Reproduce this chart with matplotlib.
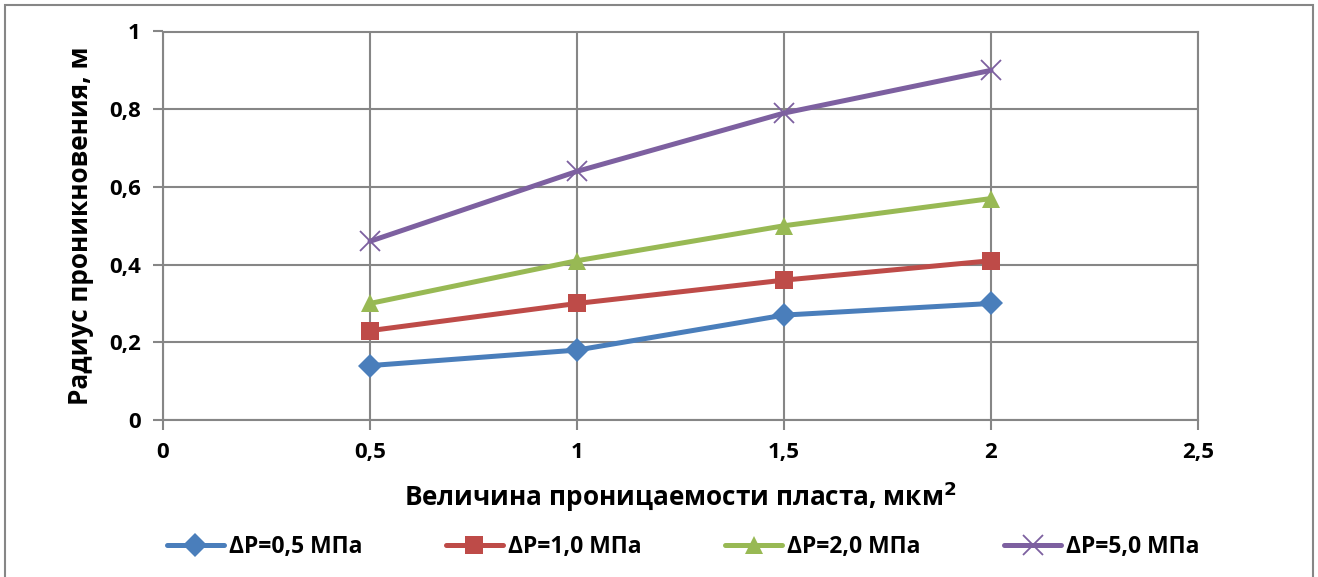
import matplotlib
matplotlib.use("Agg")
import matplotlib.pyplot as plt
from matplotlib.patches import Rectangle
from matplotlib.ticker import FuncFormatter, MultipleLocator

plt.rcParams['font.family'] = ['Open Sans', 'DejaVu Sans']
plt.rcParams['font.weight'] = 'bold'

permeability = [0.5, 1.0, 1.5, 2.0]
r_05 = [0.14, 0.18, 0.27, 0.30]
r_10 = [0.23, 0.30, 0.36, 0.41]
r_20 = [0.30, 0.41, 0.50, 0.57]
r_50 = [0.46, 0.64, 0.79, 0.90]
series_labels = ['ΔP=0,5 МПа', 'ΔP=1,0 МПа', 'ΔP=2,0 МПа', 'ΔP=5,0 МПа']
colors = ['#4A7EBB', '#BE4B48', '#98B954', '#7D60A0']
markers = ['D', 's', '^', 'x']
msizes = [12.5, 12.5, 13, 14]

fig = plt.figure(figsize=(13.18, 5.77), dpi=100)
ax = fig.add_axes([163 / 1318, 1 - 420 / 577, (1198 - 163) / 1318, (420 - 31.5) / 577])

grid_c = '#868686'
for y, lab, c, m, ms in zip([r_05, r_10, r_20, r_50], series_labels, colors, markers, msizes):
    kw = dict(markeredgewidth=1.3) if m == 'x' else dict(markeredgewidth=0)
    ax.plot(permeability, y, color=c, lw=3.6, marker=m, markersize=ms,
            label=lab, solid_capstyle='round', zorder=3, **kw)

ax.set_xlim(0, 2.5)
ax.set_ylim(0, 1)
ax.xaxis.set_major_locator(MultipleLocator(0.5))
ax.yaxis.set_major_locator(MultipleLocator(0.2))
fmt = FuncFormatter(lambda v, p: ('%g' % round(v, 2)).replace('.', ','))
ax.xaxis.set_major_formatter(fmt)
ax.yaxis.set_major_formatter(fmt)
ax.grid(True, color=grid_c, lw=1.5)
ax.set_axisbelow(True)
for s in ax.spines.values():
    s.set_color(grid_c)
    s.set_linewidth(1.5)
ax.tick_params(axis='both', direction='out', length=7, width=1.5, color=grid_c,
               labelsize=16, pad=9)
for t in ax.get_xticklabels() + ax.get_yticklabels():
    t.set_fontweight('bold')

ax.set_xlabel('Величина проницаемости пласта, мкм$^\\mathbf{2}$', fontsize=18.8,
              fontweight='bold', labelpad=12)
ax.set_ylabel('Радиус проникновения, м', fontsize=18.8, fontweight='bold', labelpad=11)

leg = fig.legend(loc='center', bbox_to_anchor=(683 / 1318, 1 - 547 / 577), ncol=4,
                 frameon=False, handlelength=2.5, columnspacing=3.65,
                 handletextpad=0.2, prop={'weight': 'bold', 'size': 16.5})

fig.add_artist(Rectangle((5 / 1318, -0.01), (1313 - 5) / 1318, 1 - 5 / 577 + 0.01,
                         transform=fig.transFigure, fill=False, ec=grid_c, lw=1.5))

fig.savefig('out.png', dpi=100)
